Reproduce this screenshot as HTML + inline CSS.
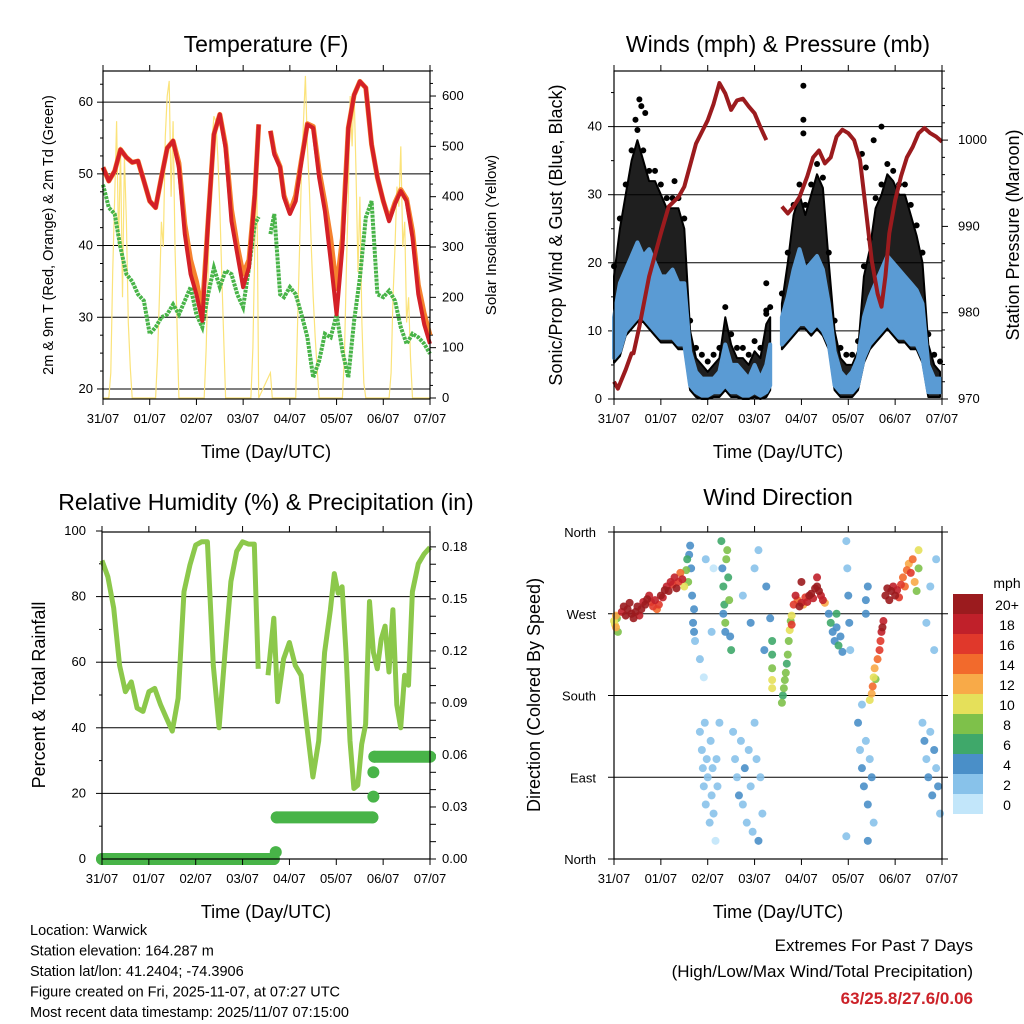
<!DOCTYPE html>
<html><head><meta charset="utf-8"><style>
body{margin:0;background:#fff;}
svg{display:block;font-family:"Liberation Sans",sans-serif;}
</style></head><body>
<svg id="c" width="1024" height="1024" xmlns="http://www.w3.org/2000/svg"></svg>
<script>
// ---------- DATA ----------
const dayLabels = ["31/07","01/07","02/07","03/07","04/07","05/07","06/07","07/07"];
const tempHours = [0,3,6,9,12,15,18,21,24,27,30,33,36,39,42,45,48,51,54,57,60,63,66,69,72,75,78,80,83,86,88,91,93,96,99,102,105,108,111,114,117,120,123,126,129,132,135,138,141,144,147,150,153,156,159,162,165,168];
const tempRed = [50.9,49,50.4,53.4,52.3,51.6,51.8,49,46.2,45.3,49.5,53.6,54.6,50.9,41.6,36,33.2,29.5,43.4,55.5,58.3,53.6,43.4,38.8,34.2,37,47.1,56.9,null,56,52.7,50.9,46.7,44.4,46.2,51.8,56.9,56.4,49.5,44.8,37.9,30.4,39.7,56.4,61,62.9,62,54.1,49.5,46.2,43.4,45.8,47.6,46.2,41.1,33.2,29,26.3];
const tempOrange = [50.9,49,50.4,53.4,52.3,51.6,51.8,49,46.2,45.3,49.5,53.6,54.6,51.5,43,38,35,31,43.4,55.5,58.3,54,45,40,36,38,47.1,56.9,null,56,53,51,47,44.6,47,52,57,56.6,50.5,46,41,34,41,56.4,61,62.9,62,54.1,49.5,46.2,43.6,46,47.8,46.5,42,34.5,30.5,27.5];
const dewPt = [48.5,45.3,44.4,39.7,36,35,33.2,32.3,27.7,28.6,30,30.4,31.8,30.4,32.3,34.2,30.4,28.6,33.2,36.9,34.2,36.5,36,33.2,31.4,36.9,43,44,null,41.6,44.4,33.2,32.8,34.2,33.2,30.4,27.2,21.6,23.9,27.7,27.2,30.4,25.3,21.6,29.5,35.5,43.9,46.2,33.2,32.8,33.7,32.3,28.6,26.3,27.7,27.2,26.3,24.9];
const solarHours = [0,3,4,5,6,7,8,9,10,11,12,13,14,15,27,28,29,30,31,32,33,34,35,36,37,38,39,52,53,54,55,56,57,58,59,60,61,62,63,76,77,78,79,80,86,87,99,100,101,102,103,104,105,106,107,108,109,110,111,123,124,125,126,127,128,129,130,131,132,133,134,135,147,148,149,150,151,152,153,154,155,156,157,158,159,168];
const solarVals = [0,0,50,250,400,550,300,500,200,480,350,150,60,0,0,80,200,350,300,520,600,630,400,550,300,150,0,0,100,250,400,510,560,550,480,380,250,120,0,0,100,300,450,0,50,0,0,150,300,450,550,640,500,420,300,200,120,60,0,0,80,250,400,600,500,610,450,250,400,150,30,0,0,50,200,300,420,380,500,300,350,150,200,80,0,0];

const windHours = [0,3,6,9,12,15,18,21,24,27,30,33,36,39,42,45,48,51,54,57,60,63,66,69,72,75,78,80,83,86,89,92,95,98,101,104,107,110,113,116,119,122,125,128,131,134,137,140,143,146,149,152,155,158,161,164,167];
const windLow = [6,7,10,11,12,12,11,10,9,9,9,8,8,2,1,0.5,0.5,1,1,2,1,1,0.5,0.5,1,0.5,1,2,null,8,9,10,11,11,10,11,10,8,2,1,1,1,2,6,8,9,10,11,10,9,9,8,8,6,1,1,1];
const windHigh = [12,17,19,21,23,21,22,20,18,18,19,17,17,7,4,3,3,3,4,8,5,5,4,3,5,3,5,8,null,12,15,19,22,19,20,21,19,14,7,4,3,4,6,12,15,17,19,21,20,19,18,17,16,14,5,3,3];
const windGust = [18,25,30,35,38,35,32,32,30,28,28,28,25,10,6,5,4,5,6,12,8,6,6,5,7,6,11,12,null,14,20,27,30,27,30,33,31,20,10,6,5,5,7,18,22,28,30,33,32,30,30,27,24,20,8,5,4];
const gustOutHours = [13,14,16,11,31,97,97,97,78,78,137,127,129,133];
const gustOutVals = [44,43,42,41,32,46,41,39,17,13,40,36,34,38];
const pressHours = [0,2,6,9,10,13,18,24,28,33,36,42,48,51,54,57,60,63,66,69,72,75,78,83,86,89,92,95,99,102,105,108,111,114,117,120,123,126,129,132,135,137,139,141,144,147,150,153,156,159,162,165,168];
const pressVals = [972,971.2,973.4,975.3,975.3,978.4,984.2,989.2,992.3,993.4,994.6,999.6,1002.3,1004.2,1006.6,1005.4,1003.5,1004.6,1004.8,1003.9,1003.1,1001.5,1000,null,992.3,991.5,992.3,993.4,995.8,998,998.8,997.3,998,1000.4,1001.2,1000.8,1000,997.7,991.9,986.1,982.2,980.7,984.2,989.2,993,995.8,998,999.2,1000.8,1001.4,1000.8,1000.4,999.8];

const rhHours = [0,3,6,9,12,15,18,21,24,27,30,33,36,39,42,45,48,51,54,57,60,63,66,69,72,75,78,80,83,85,88,90,93,96,99,102,105,108,111,114,117,119,121,123,125,127,129,131,133,135,137,139,141,143,145,147,149,151,153,155,157,159,162,165,168];
const rhVals = [91,86,76.5,59,51,54,46,45,51,52,47,43,39,49,81.5,89.6,95.7,96.7,96.7,59,40,63,84.6,93.8,96.7,96,96,58,null,56,73.4,48,61,66,59,56,40,25,36,63,76,87,81,83,63,36,21.5,22.5,35,41,78.5,63,58,67,71,57,76,47,40,56,53,81.5,90,93,95];
const precipHours = [0,88,89,89.5,138.5,139,139,139.5,168];
const precipVals = [0,0,0.004,0.024,0.024,0.036,0.05,0.059,0.059];

const dirHours = [0,0.5,1,1.5,2,1,4,5,6,7,8,9,10,11,12,13,14,15,16,17,18,19,20,21,22,23,24,25,26,27,28,29,30,31,32,33,34,35,36,37,37.5,38,38.5,39,39.5,40,40.5,41,41.5,41,44,45,45.5,46,46.5,47,47.5,48,49,49.5,50,50.5,51,52,52.5,53,54,47,50,51,44,46,55,55.5,56,56.5,57,57.5,58,58.5,59,59.5,60,56,57,61,62,63,64,65,66,67,68,69,70,71,72,73,74,75,76,66,70,72,74,78,77,81,81,81,81,81,80,86,86.5,87,87.5,88,88.5,89,89.5,90,90.5,91,91,92,93,94,95,96,97,98,99,100,101,102,103,104,105,106,107,96,104,108,110,111,112,113,114,115,116,117,114,119,119.5,120,120.5,121,119,125,126,127,128,129,130,131,132,133,130,127,129,130,129,131,132,132.5,133,133.5,134,135,136,136.5,137,137.5,138,139,140,141,142,143,144,145,146,147,148,149,150,151,152,153,154,155,156,156,158,159,160,161,162,163,164,165,166,167,160,162,165,164];
const dirDeg = [262,258,255,265,250,268,272,278,268,275,282,270,265,272,278,268,275,283,280,286,290,283,278,285,275,280,290,288,296,300,295,305,302,310,298,305,315,308,300,318,330,305,335,345,320,290,260,250,240,275,140,120,100,80,150,60,110,90,40,130,70,100,50,20,110,80,150,330,250,320,220,200,350,320,300,280,260,330,340,310,285,245,230,270,250,140,110,90,70,130,60,100,40,120,80,30,150,110,20,90,50,290,260,320,340,300,230,240,225,210,197,188,265,172,180,188,197,205,215,225,240,252,262,268,258,280,290,285,278,282,280,288,283,290,292,287,298,300,295,290,285,305,310,282,270,260,250,240,255,235,245,228,270,350,320,290,260,230,25,150,120,100,80,130,60,110,90,40,20,170,285,300,270,175,182,190,200,210,198,220,230,240,250,255,262,290,298,285,295,300,290,296,288,302,310,300,318,325,315,330,305,295,320,340,150,130,110,90,140,70,120,100,80,50,260,300,330,230];
const dirSpeed = [9,10,11,8,7,12,18,20,21,20,19,21,20,22,19,18,20,17,19,20,18,16,15,17,13,16,19,18,20,17,19,18,15,17,20,16,14,18,10,7,6,8,4,4,3,4,3,3,2,4,2,1,2,2,1,1,2,2,1,2,1,2,1,0,1,2,1,1,1,0,2,0,5,4,5,6,7,7,8,6,7,4,5,4,4,2,1,2,3,1,2,3,2,1,2,1,2,1,3,2,2,1,3,2,1,3,3,5,6,7,10,10,3,7,6,7,8,7,6,7,8,9,7,10,16,16,18,14,19,17,12,16,17,20,19,18,20,21,19,18,17,21,18,12,4,5,4,3,4,5,4,3,6,1,2,3,3,2,1,3,2,3,3,2,3,2,3,2,3,1,4,3,4,10,12,13,9,11,8,14,15,16,18,20,17,19,20,20,19,18,20,17,16,15,14,13,14,12,15,13,12,8,7,10,2,3,2,3,2,3,4,2,3,2,2,1,1,2];
const legendLabels = ["20+","18","16","14","12","10","8","6","4","2","0"];
const legendColors = ["#9b1b1e","#c0202a","#e0382b","#f26a2c","#f8aa48","#e5e05a","#7ec14a","#3fa86a","#4a8fc8","#88c2ea","#c2e6fa"];

// ---------- HELPERS ----------
const svg = document.getElementById('c');
const NS = "http://www.w3.org/2000/svg";
function el(tag, attrs, parent){
  const e = document.createElementNS(NS, tag);
  for (const k in attrs) e.setAttribute(k, attrs[k]);
  (parent||svg).appendChild(e);
  return e;
}
function txt(x,y,s,size,anchor,extra){
  const t = el('text',{x:x,y:y,'font-size':size,'text-anchor':anchor||'middle',fill:'#000'});
  if (extra) for (const k in extra) t.setAttribute(k, extra[k]);
  t.textContent = s;
  return t;
}
function pathFrom(xs, ys, sx, sy){
  let d = "", pen = false;
  for (let i=0;i<xs.length;i++){
    if (ys[i]===null){ pen=false; continue; }
    d += (pen?"L":"M") + sx(xs[i]).toFixed(1) + "," + sy(ys[i]).toFixed(1);
    pen = true;
  }
  return d;
}
function bandFrom(xs, lo, hi, sx, sy){
  let segs=[], cur=[];
  for (let i=0;i<xs.length;i++){
    if (lo[i]===null){ if(cur.length) segs.push(cur); cur=[]; continue; }
    cur.push(i);
  }
  if (cur.length) segs.push(cur);
  return segs.map(s=>{
    let d="M"+s.map(i=>sx(xs[i]).toFixed(1)+","+sy(hi[i]).toFixed(1)).join("L");
    d+="L"+s.slice().reverse().map(i=>sx(xs[i]).toFixed(1)+","+sy(lo[i]).toFixed(1)).join("L")+"Z";
    return d;
  });
}
function frame(x0,y0,x1,y1,name){
  const g = el('g',{});
  
  
  el('rect',{x:x0,y:y0,width:x1-x0,height:y1-y0,fill:'none',stroke:'#000','stroke-width':1.2},g);
  for (let d=0; d<=7; d++){
    const x = x0 + d*(x1-x0)/7;
    el('line',{x1:x,y1:y1,x2:x,y2:y1+6,stroke:'#000','stroke-width':1},g);
    el('line',{x1:x,y1:y0,x2:x,y2:y0-6,stroke:'#000','stroke-width':1},g);
    const t = txt(x, y1+24, dayLabels[d], 13);
    
    
  }
  return g;
}
function hgrid(x0,x1,y){ el('line',{x1:x0,y1:y,x2:x1,y2:y,stroke:'#000','stroke-width':1}); }
function ytick(x,y,dir,len){ el('line',{x1:x,y1:y,x2:x+dir*len,y2:y,stroke:'#000','stroke-width':1}); }

// ---------- PANEL 1: TEMPERATURE ----------
(function(){
  const X0=103,X1=430,Y0=71,Y1=399;
  const sx = h => X0 + h/168*(X1-X0);
  const sy = T => 399 - (T-18.6)*7.17;
  const ss = v => 398 - v*0.5033;
  [20,30,40,50,60].forEach(v=>hgrid(X0,X1,sy(v)));
  for (let v=20; v<=64; v+=2.5){ ytick(X0,sy(v),-1,(v%10===0)?6:3); }
  for (let v=0; v<=650; v+=25){ ytick(X1,ss(v),1,(v%100===0)?6:3); }
  [20,30,40,50,60].forEach(v=>{const t=txt(X0-10,sy(v)+4,String(v),13,'end');});
  [0,100,200,300,400,500,600].forEach(v=>{const t=txt(X1+12,ss(v)+4,String(v),13,'start');});
  const sol = el('path',{d:pathFrom(solarHours,solarVals,sx,ss),fill:'none',stroke:'#fbe37a','stroke-width':1.2});
   
  const dp = el('path',{d:pathFrom(tempHours,dewPt,sx,sy),fill:'none',stroke:'#48b448','stroke-width':4,'stroke-dasharray':'3,1'});
   
  const or = el('path',{d:pathFrom(tempHours,tempOrange,sx,sy),fill:'none',stroke:'#f5822e','stroke-width':5,'stroke-linejoin':'round'});
   
  const rd = el('path',{d:pathFrom(tempHours,tempRed,sx,sy),fill:'none',stroke:'#d42027','stroke-width':4,'stroke-linejoin':'round'});
   
  frame(X0,Y0,X1,Y1,'temperature-plot-frame');
  const t1=txt(266,52,'Temperature (F)',23);  
  const t2=txt(266,458,'Time (Day/UTC)',18);  
  const t3=txt(0,0,'2m & 9m T (Red, Orange) & 2m Td (Green)',14.5,'middle',{transform:'translate(53,235) rotate(-90)'});  
  const t4=txt(0,0,'Solar Insolation (Yellow)',15,'middle',{transform:'translate(496,235) rotate(-90)'});  
})();

// ---------- PANEL 2: WINDS ----------
(function(){
  const X0=614,X1=942,Y0=71,Y1=399;
  const sx = h => X0 + h/168*(X1-X0);
  const sy = v => 399 - v*6.81;
  const sp = p => 399 - (p-970)*8.63;
  [10,20,30,40].forEach(v=>hgrid(X0,X1,sy(v)));
  for (let v=0; v<=48; v+=5){ ytick(X0,sy(v),-1,(v%10===0)?6:3); }
  for (let v=970; v<=1008; v+=2){ ytick(X1,sp(v),1,(v%10===0)?6:3); }
  [0,10,20,30,40].forEach(v=>{const t=txt(X0-12,sy(v)+4,String(v),13,'end');});
  [970,980,990,1000].forEach(v=>{const t=txt(X1+16,sp(v)+4,String(v),13,'start');});
  const lowB = windLow.map(v=>v===null?null:Math.max(0,v-0.7));
  bandFrom(windHours,lowB,windGust,sx,sy).forEach(d=>{
    const p=el('path',{d:d,fill:'#000','fill-opacity':0.88,stroke:'#000','stroke-width':2,'stroke-linejoin':'round'});
     
  });
  windHours.forEach((h,i)=>{ if(windGust[i]===null) return;
    const c=el('circle',{cx:sx(h),cy:sy(windGust[i]+1.5),r:3,fill:'#000'});
     
  });
  gustOutHours.forEach((h,i)=>{
    const c=el('circle',{cx:sx(h),cy:sy(gustOutVals[i]),r:3,fill:'#000'});
     
  });
  bandFrom(windHours,windLow,windHigh,sx,sy).forEach(d=>{
    const p=el('path',{d:d,fill:'#5a9bd4',stroke:'#5a9bd4','stroke-width':4,'stroke-linejoin':'round'});
     
  });
  const pr = el('path',{d:pathFrom(pressHours,pressVals,sx,sp),fill:'none',stroke:'#9b1b1e','stroke-width':4,'stroke-linejoin':'round'});
   
  frame(X0,Y0,X1,Y1,'winds-plot-frame');
  const t1=txt(778,52,'Winds (mph) & Pressure (mb)',23);  
  const t2=txt(778,458,'Time (Day/UTC)',18);  
  const t3=txt(0,0,'Sonic/Prop Wind & Gust (Blue, Black)',18,'middle',{transform:'translate(562,235) rotate(-90)'});  
  const t4=txt(0,0,'Station Pressure (Maroon)',18,'middle',{transform:'translate(1019,235) rotate(-90)'});  
})();

// ---------- PANEL 3: RH & PRECIP ----------
(function(){
  const X0=102,X1=430,Y0=532,Y1=859;
  const sx = h => X0 + h/168*(X1-X0);
  const sy = v => 859 - v*3.28;
  const sp = p => 859 - p*1734;
  [20,40,60,80].forEach(v=>hgrid(X0,X1,sy(v)));
  for (let v=0; v<=100; v+=10){ ytick(X0,sy(v),-1,(v%20===0)?6:3); }
  for (let v=0; v<=0.18001; v+=0.01){ ytick(X1,sp(v),1,6); }
  [0,20,40,60,80,100].forEach(v=>{const t=txt(X0-16,sy(v)+4,String(v),13,'end');});
  [0,0.03,0.06,0.09,0.12,0.15,0.18].forEach(v=>{const t=txt(X1+12,sp(v)+4,v.toFixed(2),13,'start');});
  const rh = el('path',{d:pathFrom(rhHours,rhVals,sx,sy),fill:'none',stroke:'#8cc84b','stroke-width':5,'stroke-linejoin':'round'});
   
  for (let i=0;i<precipHours.length;i++){
    if (i<precipHours.length-1 && precipVals[i+1]===precipVals[i]){
      const l=el('line',{x1:sx(precipHours[i]),y1:sp(precipVals[i]),x2:sx(precipHours[i+1]),y2:sp(precipVals[i+1]),stroke:'#48b448','stroke-width':12,'stroke-linecap':'round'});
       
    }
    const c=el('circle',{cx:sx(precipHours[i]),cy:sp(precipVals[i]),r:6,fill:'#48b448'});
     
  }
  frame(X0,Y0,X1,Y1,'rh-plot-frame');
  const t1=txt(266,510,'Relative Humidity (%) & Precipitation (in)',23);  
  const t2=txt(266,918,'Time (Day/UTC)',18);  
  const t3=txt(0,0,'Percent & Total Rainfall',18,'middle',{transform:'translate(45,695) rotate(-90)'});  
})();

// ---------- PANEL 4: WIND DIRECTION ----------
(function(){
  const X0=614,X1=942,Y0=532,Y1=859;
  const sx = h => X0 + h/168*(X1-X0);
  const sy = d => 859 - d*327/360;
  const dirNames = ["North","East","South","West","North"];
  [90,180,270].forEach(v=>hgrid(X0,X1,sy(v)));
  [0,90,180,270,360].forEach((v,i)=>{ ytick(X0,sy(v),-1,6); ytick(X1,sy(v),1,6);
    const t=txt(X0-18,sy(v)+5,dirNames[i],13,'end');});
  const colorFor = s => legendColors[10 - Math.min(10, Math.round(s/2))];
  const order = dirHours.map((h,i)=>i).sort((a,b)=>dirSpeed[a]-dirSpeed[b]);
  order.forEach(i=>{
    const c=el('circle',{cx:sx(dirHours[i]),cy:sy(dirDeg[i]),r:4,fill:colorFor(dirSpeed[i]),'fill-opacity':0.9});
     
  });
  frame(X0,Y0,X1,Y1,'direction-plot-frame');
  const t1=txt(778,505,'Wind Direction',23);  
  const t2=txt(778,918,'Time (Day/UTC)',18);  
  const t3=txt(0,0,'Direction (Colored By Speed)',18,'middle',{transform:'translate(540,695) rotate(-90)'});  
  const lg = el('g',{});
   
  const lt=txt(1007,588,'mph',14,'middle'); lg.appendChild(lt);
  legendLabels.forEach((lab,i)=>{
    const r=el('rect',{x:953,y:594+i*20,width:30,height:20,fill:legendColors[i]},lg);
     
    const t=txt(1007,610+i*20,lab,14,'middle'); lg.appendChild(t);
     
  });
})();

// ---------- FOOTER ----------
const infoLines = ["Location: Warwick","Station elevation: 164.287 m","Station lat/lon: 41.2404; -74.3906","Figure created on Fri, 2025-11-07, at 07:27 UTC","Most recent data timestamp: 2025/11/07 07:15:00"];
infoLines.forEach((s,i)=>{const t=txt(30,935+i*20.5,s,14.5,'start');});
const e1=txt(973,951,'Extremes For Past 7 Days',17,'end');  
const e2=txt(973,977,'(High/Low/Max Wind/Total Precipitation)',17,'end');  
const e3=txt(973,1004,'63/25.8/27.6/0.06',17,'end',{fill:'#cc2229','font-weight':'bold'});  
</script>
</body></html>
